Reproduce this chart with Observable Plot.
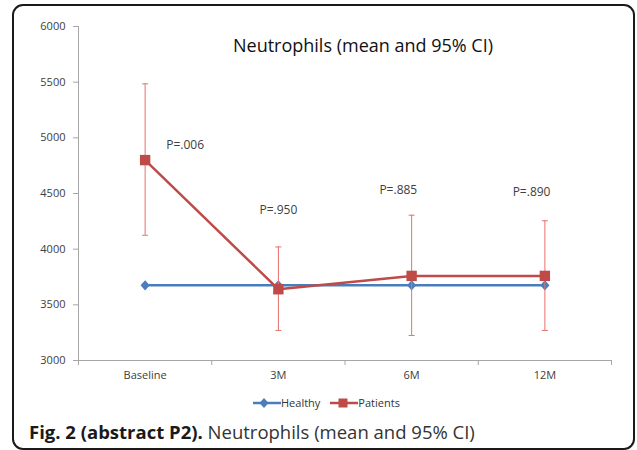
<!DOCTYPE html>
<html>
<head>
<meta charset="utf-8">
<script src="https://cdn.jsdelivr.net/npm/d3@7"></script>
<script src="https://cdn.jsdelivr.net/npm/@observablehq/plot@0.6"></script>
<style>
  html, body { margin: 0; padding: 0; background: #fff; }
  #wrap { position: relative; width: 637px; height: 450px; overflow: hidden; background: #fff; font-family: "Open Sans", sans-serif; }
  #frame { position: absolute; left: 12px; top: 4px; width: 619px; height: 442px; border: 2px solid #1a1a1a; border-radius: 11px; }
  #chart { position: absolute; left: 0; top: 0; }
  #title { position: absolute; left: 0; width: 726px; top: 33px; text-align: center; font-size: 18px; color: #111; white-space: nowrap; }
  #legend { position: absolute; top: 395px; left: 253px; font-size: 11px; color: #333; display: flex; align-items: center; white-space: nowrap; }
  #legend .item { display: flex; align-items: center; margin-right: 10px; }
  #caption { position: absolute; left: 29px; top: 419px; font-size: 18.5px; color: #333; white-space: nowrap; }
  #caption b { font-weight: 700; color: #1a1a1a; }
  #chart svg text { fill: #404040; }
</style>
</head>
<body>
<div id="wrap">
  <div id="chart"></div>
  <div id="title">Neutrophils (mean and 95% CI)</div>
  <div id="legend"></div>
  <div id="caption"><b>Fig. 2 (abstract P2).</b> Neutrophils (mean and 95% CI)</div>
  <div id="frame"></div>
</div>
<script>
const categories = ["Baseline", "3M", "6M", "12M"];
const healthy = [3675, 3675, 3675, 3675];
const patientsMean = [4800, 3640, 3760, 3760];
const patientsLow = [4125, 3270, 3225, 3270];
const patientsHigh = [5485, 4020, 4305, 4255];
const pLabels = ["P=.006", "P=.950", "P=.885", "P=.890"];
const pLabelX = [0.3, 1.0, 1.9, 2.9];
const pLabelY = [4930, 4350, 4530, 4510];
const yTicks = [3000, 3500, 4000, 4500, 5000, 5500, 6000];

const healthyColor = "#4a7ebb";
const patientsColor = "#be4b48";
const ciColor = "#e8706d";
const axisColor = "#a6a6a6";

const idx = categories.map((_, i) => i);
const bounds = d3.range(categories.length + 1).map(i => i - 0.5);
const healthyData = idx.map(i => ({i, v: healthy[i]}));
const patientsData = idx.map(i => ({i, v: patientsMean[i], lo: patientsLow[i], hi: patientsHigh[i]}));
const pData = idx.map(i => ({x: pLabelX[i], y: pLabelY[i], t: pLabels[i]}));

const cap = {draw(ctx) { ctx.moveTo(-3, 0); ctx.lineTo(3, 0); }};
const square = {draw(ctx) { ctx.rect(-5.2, -5.2, 10.4, 10.4); }};
const diamond = {draw(ctx) { ctx.moveTo(0, -5.2); ctx.lineTo(4.6, 0); ctx.lineTo(0, 5.2); ctx.lineTo(-4.6, 0); ctx.closePath(); }};

const chart = Plot.plot({
  width: 637,
  height: 390,
  marginLeft: 78,
  marginRight: 26,
  marginTop: 26,
  marginBottom: 30,
  style: {fontFamily: "Open Sans, sans-serif", fontSize: "11px", background: "transparent"},
  x: {type: "linear", domain: [-0.5, categories.length - 0.5], axis: null},
  y: {domain: [3000, 6000], axis: null},
  marks: [
    Plot.axisY({ticks: yTicks, tickSize: 5, tickPadding: 8, stroke: axisColor, tickFormat: d => String(d)}),
    Plot.ruleX([-0.5], {stroke: axisColor}),
    Plot.ruleY([3000], {stroke: axisColor}),
    Plot.axisX({ticks: bounds, tickSize: 5, tickFormat: () => "", stroke: axisColor}),
    Plot.axisX({ticks: idx, tickSize: 0, tickPadding: 11, tickFormat: i => categories[i]}),
    Plot.line(healthyData, {x: "i", y: "v", stroke: healthyColor, strokeWidth: 2.5}),
    Plot.dot(healthyData, {x: "i", y: "v", symbol: diamond, fill: healthyColor, stroke: "none"}),
    Plot.ruleX(patientsData, {x: "i", y1: "lo", y2: "hi", stroke: ciColor, strokeWidth: 1}),
    Plot.dot(patientsData, {x: "i", y: "lo", symbol: cap, stroke: ciColor, strokeWidth: 1}),
    Plot.dot(patientsData, {x: "i", y: "hi", symbol: cap, stroke: ciColor, strokeWidth: 1}),
    Plot.line(patientsData, {x: "i", y: "v", stroke: patientsColor, strokeWidth: 2.5}),
    Plot.dot(patientsData, {x: "i", y: "v", symbol: square, fill: patientsColor, stroke: "none"}),
    Plot.text(pData, {x: "x", y: "y", text: "t", fontSize: 12, fill: "#111"})
  ]
});
document.getElementById("chart").appendChild(chart);

// Legend
const legend = document.getElementById("legend");
[["Healthy", healthyColor, "M11,-5 L15.5,0 L11,5 L6.5,0Z"], ["Patients", patientsColor, "M8.5,-4.5h9v9h-9Z"]].forEach(([name, color, path]) => {
  const item = document.createElement("div");
  item.className = "item";
  const sw = d3.create("svg").attr("width", 28).attr("height", 14).attr("viewBox", "0 -7 28 14");
  sw.append("line").attr("x1", 0).attr("x2", 28).attr("y1", 0).attr("y2", 0).attr("stroke", color).attr("stroke-width", 2.5);
  sw.append("path").attr("d", path).attr("fill", color);
  item.appendChild(sw.node());
  const label = document.createElement("span");
  label.textContent = name;
  item.appendChild(label);
  legend.appendChild(item);
});
</script>
</body>
</html>
